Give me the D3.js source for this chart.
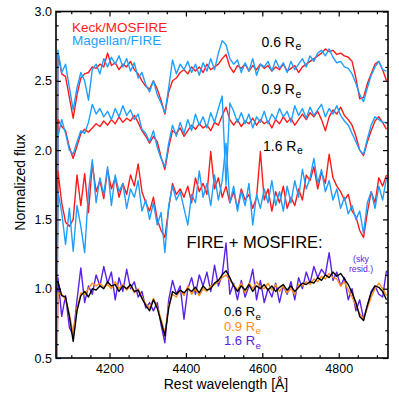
<!DOCTYPE html>
<html>
<head>
<meta charset="utf-8">
<script src="https://cdn.jsdelivr.net/npm/d3@7"></script>
<style>
  body { margin: 0; background: #fff; }
  text { font-family: "Liberation Sans", Arial, Helvetica, sans-serif; }
</style>
</head>
<body>
<div id="chart"></div>
<script>
// rest wavelength grid [A]; first point is the spectrum edge
const wavelength = [4061,
  4065,4075,4085,4095,4105,4115,4125,4135,4145,4155,
  4165,4175,4185,4195,4205,4215,4225,4235,4245,4255,
  4265,4275,4285,4295,4305,4315,4325,4335,4345,4355,
  4365,4375,4385,4395,4405,4415,4425,4435,4445,4455,
  4465,4475,4485,4495,4505,4515,4525,4535,4545,4555,
  4565,4575,4585,4595,4605,4615,4625,4635,4645,4655,
  4665,4675,4685,4695,4705,4715,4725,4735,4745,4755,
  4765,4775,4785,4795,4805,4815,4825,4835,4845,4855,
  4865,4875,4885,4895,4905,4915,4925];

// Keck/MOSFIRE, offset spectra
const mosfire06 = [0,
  2.70,2.55,2.53,2.38,2.23,2.40,2.52,2.55,2.56,2.60, 2.59,2.62,2.60,2.70,2.61,2.63,2.58,2.62,2.60,2.64,
  2.58,2.55,2.50,2.46,2.44,2.50,2.44,2.36,2.26,2.42, 2.50,2.52,2.56,2.58,2.55,2.60,2.57,2.60,2.56,2.62,
  2.58,2.60,2.62,2.66,2.69,2.60,2.56,2.61,2.59,2.62, 2.57,2.61,2.58,2.62,2.59,2.61,2.57,2.60,2.58,2.62,
  2.57,2.59,2.61,2.56,2.60,2.62,2.64,2.66,2.68,2.70, 2.73,2.71,2.72,2.69,2.70,2.68,2.67,2.64,2.52,2.37,
  2.38,2.48,2.55,2.62,2.64,2.58,2.50];
const mosfire09 = [0,
  2.22,2.17,2.14,2.02,1.94,2.03,2.12,2.15,2.13,2.16, 2.19,2.17,2.21,2.18,2.22,2.19,2.24,2.20,2.23,2.21,
  2.25,2.20,2.14,2.10,2.05,2.10,2.06,1.95,1.86,2.02, 2.14,2.12,2.16,2.10,2.14,2.18,2.15,2.19,2.16,2.18,
  2.14,2.20,2.18,2.25,2.31,2.22,2.18,2.22,2.17,2.21, 2.19,2.23,2.18,2.22,2.19,2.21,2.16,2.22,2.19,2.24,
  2.20,2.23,2.18,2.22,2.26,2.22,2.27,2.24,2.28,2.22, 2.14,2.24,2.29,2.26,2.31,2.25,2.22,2.18,2.10,2.00,
  1.96,2.06,2.14,2.21,2.24,2.20,2.15];
const mosfire16 = [0,
  1.85,1.62,1.48,1.45,1.50,1.82,1.60,1.83,1.55,1.90, 1.70,1.78,1.65,1.86,1.72,1.80,1.66,1.76,1.68,1.82,
  1.74,1.90,1.70,1.62,1.56,1.66,1.50,1.42,1.37,1.58, 1.76,1.68,1.72,1.66,1.74,1.62,1.80,1.70,1.76,1.68,
  1.99,1.72,1.80,1.66,1.74,1.62,1.70,1.58,1.72,1.64, 1.68,1.58,1.66,1.99,1.64,1.72,1.56,1.70,1.62,1.74,
  1.58,1.66,1.60,1.72,1.64,1.82,1.78,1.88,1.72,1.84, 1.76,1.97,1.80,1.74,1.70,1.64,1.68,1.56,1.52,1.42,
  1.37,1.55,1.70,1.62,1.80,1.74,1.82];

// Magellan/FIRE, offset spectra
const fire06 = [0,
  2.72,2.56,2.62,2.45,2.29,2.45,2.56,2.50,2.36,2.58, 2.62,2.55,2.66,2.60,2.67,2.62,2.68,2.60,2.66,2.57,
  2.63,2.52,2.56,2.47,2.42,2.50,2.40,2.34,2.27,2.45, 2.65,2.55,2.62,2.58,2.64,2.56,2.62,2.54,2.63,2.57,
  2.66,2.58,2.70,2.79,2.76,2.66,2.62,2.65,2.56,2.63, 2.57,2.66,2.54,2.62,2.60,2.64,2.57,2.65,2.59,2.63,
  2.56,2.64,2.58,2.62,2.66,2.60,2.68,2.64,2.70,2.72, 2.68,2.73,2.67,2.63,2.64,2.60,2.59,2.55,2.48,2.40,
  2.35,2.45,2.54,2.60,2.64,2.58,2.57];
const fire09 = [0,
  2.10,2.22,2.12,2.00,1.97,2.06,2.14,2.12,2.20,2.33, 2.26,2.30,2.24,2.28,2.22,2.30,2.24,2.32,2.25,2.29,
  2.22,2.26,2.15,2.12,2.06,2.14,2.02,1.94,1.88,2.05, 2.18,2.10,2.20,2.12,2.22,2.14,2.26,2.18,2.24,2.16,
  2.27,2.20,2.30,2.39,1.75,2.34,2.28,2.20,2.27,2.19, 2.26,2.16,2.24,2.20,2.28,2.19,2.26,2.22,2.30,2.24,
  2.28,2.20,2.32,2.25,2.30,2.23,2.31,2.25,2.29,2.33, 2.24,2.30,2.26,2.32,2.25,2.21,2.18,2.12,2.06,2.00,
  1.97,2.08,2.18,2.24,2.22,2.20,2.20];
const fire16 = [0,
  1.70,1.55,1.32,1.58,1.27,1.60,1.45,1.26,1.70,1.93, 1.62,1.80,1.68,1.88,1.60,1.82,1.70,1.76,1.58,1.72,
  1.66,1.78,1.56,1.64,1.50,1.62,1.46,1.55,1.26,1.60, 1.74,1.64,1.70,1.58,1.46,1.68,1.62,1.85,1.66,1.76,
  1.60,1.82,1.64,1.78,2.05,1.62,1.74,1.56,1.70,1.60, 1.76,1.46,1.68,1.58,1.72,1.62,1.78,1.60,1.70,1.56,
  1.74,1.62,1.78,1.66,1.86,1.72,1.80,1.94,1.76,1.86, 1.70,1.78,1.64,1.72,1.58,1.66,1.54,1.60,1.50,1.56,
  1.40,1.62,1.70,1.58,1.74,1.64,1.80];

// FIRE + MOSFIRE combined
const combined06 = [1.05,
  1.05,0.95,0.94,0.80,0.62,0.84,0.95,0.98,0.94,1.00, 0.99,1.02,1.00,1.05,1.02,1.03,0.98,1.02,1.00,1.03,
  0.98,0.99,0.93,0.88,0.84,0.92,0.86,0.76,0.66,0.86, 0.98,0.96,0.99,0.97,1.00,0.98,1.01,0.97,1.02,0.99,
  1.00,1.04,1.06,1.10,1.13,1.08,1.02,0.98,1.02,0.99, 1.03,0.98,1.02,1.00,1.03,0.99,1.02,0.98,1.01,1.03,
  0.99,1.02,0.98,1.01,1.04,1.03,1.05,1.04,1.08,1.06, 1.10,1.08,1.12,1.09,1.11,1.07,1.03,0.97,0.90,0.80,
  0.77,0.88,0.97,1.02,1.01,0.98,0.92];
const combined09 = [0,
  0.97,0.96,0.92,0.82,0.67,0.86,0.97,0.96,1.00,1.04, 1.02,1.04,1.01,1.03,1.00,1.05,1.00,1.03,0.99,1.02,
  0.97,1.00,0.94,0.89,0.86,0.93,0.87,0.78,0.68,0.88, 0.96,0.94,0.99,0.95,1.02,0.96,1.00,0.95,1.00,0.98,
  1.02,1.03,1.05,1.08,1.10,1.06,1.03,0.99,1.04,0.97, 1.04,1.00,1.05,1.01,1.00,1.04,0.99,1.03,0.98,1.02,
  0.97,1.00,0.96,1.03,1.02,1.05,1.03,1.07,1.05,1.09, 1.07,1.11,1.08,1.07,1.02,1.05,0.99,0.94,0.88,0.82,
  0.78,0.86,0.94,1.00,1.04,1.00,0.95];
const combined16 = [0,
  1.08,0.80,0.95,0.72,0.66,0.92,1.15,0.90,1.02,0.96, 1.10,1.02,1.16,1.04,1.12,0.92,1.08,0.98,1.14,1.00,
  1.05,0.94,0.98,0.86,0.90,0.84,0.90,0.74,0.61,0.92, 1.06,0.96,1.02,0.78,1.00,1.08,0.96,1.10,1.02,1.12,
  0.98,1.17,1.02,1.10,1.33,0.96,1.04,0.92,1.06,0.94, 1.02,1.14,0.92,1.06,0.90,1.00,0.94,1.04,0.90,1.02,
  0.96,1.05,0.92,1.08,1.00,1.12,1.04,1.16,1.08,1.14, 1.10,1.26,1.06,1.12,1.02,1.08,0.92,1.00,0.84,0.92,
  0.78,0.88,0.98,1.02,0.96,0.94,1.13];

const xMajorTicks = [4200, 4400, 4600, 4800];
const xMinorTicks = [4100, 4150, 4250, 4300, 4350, 4450, 4500, 4550, 4650, 4700, 4750, 4850, 4900];
const yMajorTicks = [0.5, 1.0, 1.5, 2.0, 2.5, 3.0];
const yMinorTicks = [0.6, 0.7, 0.8, 0.9, 1.1, 1.2, 1.3, 1.4, 1.6, 1.7, 1.8, 1.9,
                     2.1, 2.2, 2.3, 2.4, 2.6, 2.7, 2.8, 2.9];

const RED = "#ff1a1a", BLUE = "#1e9fff", ORANGE = "#ff8c1a", PURPLE = "#5a22e6";

// draw order: pairs first, combined on top
const series = [
  { values: mosfire06, color: RED },
  { values: fire06, color: BLUE },
  { values: mosfire09, color: RED },
  { values: fire09, color: BLUE },
  { values: mosfire16, color: RED },
  { values: fire16, color: BLUE },
  { values: combined16, color: PURPLE },
  { values: combined09, color: ORANGE },
  { values: combined06, color: "#000" }
];

const width = 399, height = 399;
const plotLeft = 56, plotRight = 388, plotTop = 11.5, plotBottom = 358;

const svg = d3.select("#chart").append("svg")
    .attr("width", width)
    .attr("height", height);

const x = d3.scaleLinear().domain([4060, 4929]).range([plotLeft, plotRight]);
const y = d3.scaleLinear().domain([0.5, 3.0]).range([plotBottom, plotTop]);

svg.append("clipPath").attr("id", "plotclip")
  .append("rect")
    .attr("x", plotLeft).attr("y", plotTop)
    .attr("width", plotRight - plotLeft).attr("height", plotBottom - plotTop);

const line = d3.line()
    .x((d, i) => x(wavelength[i]))
    .y(d => y(d));

const lines = svg.append("g").attr("clip-path", "url(#plotclip)");
series.forEach(s => {
    lines.append("path")
        .datum(s.values)
        .attr("d", line)
        .attr("fill", "none")
        .attr("stroke", s.color)
        .attr("stroke-width", 1.4)
        .attr("stroke-linejoin", "round");
});

// axes, ticks pointing inward on all four sides
function styleAxis(g) {
    g.select(".domain").remove();
    g.selectAll(".tick line").attr("stroke", "#000").attr("stroke-width", 1.2);
    g.selectAll("text")
        .attr("fill", "#000")
        .style("font-family", '"Liberation Sans", Arial, sans-serif')
        .style("font-size", "12.5px");
}

svg.append("g").attr("transform", `translate(0,${plotBottom})`)
    .call(d3.axisBottom(x).tickValues(xMajorTicks).tickSize(-5).tickPadding(6).tickFormat(d3.format("d")))
    .call(styleAxis);
svg.append("g").attr("transform", `translate(0,${plotBottom})`)
    .call(d3.axisBottom(x).tickValues(xMinorTicks).tickSize(-2.7).tickFormat(""))
    .call(styleAxis);
svg.append("g").attr("transform", `translate(0,${plotTop})`)
    .call(d3.axisTop(x).tickValues(xMajorTicks).tickSize(-5).tickFormat(""))
    .call(styleAxis);
svg.append("g").attr("transform", `translate(0,${plotTop})`)
    .call(d3.axisTop(x).tickValues(xMinorTicks).tickSize(-2.7).tickFormat(""))
    .call(styleAxis);

svg.append("g").attr("transform", `translate(${plotLeft},0)`)
    .call(d3.axisLeft(y).tickValues(yMajorTicks).tickSize(-5).tickPadding(4).tickFormat(d3.format(".1f")))
    .call(styleAxis);
svg.append("g").attr("transform", `translate(${plotLeft},0)`)
    .call(d3.axisLeft(y).tickValues(yMinorTicks).tickSize(-2.7).tickFormat(""))
    .call(styleAxis);
svg.append("g").attr("transform", `translate(${plotRight},0)`)
    .call(d3.axisRight(y).tickValues(yMajorTicks).tickSize(-5).tickFormat(""))
    .call(styleAxis);
svg.append("g").attr("transform", `translate(${plotRight},0)`)
    .call(d3.axisRight(y).tickValues(yMinorTicks).tickSize(-2.7).tickFormat(""))
    .call(styleAxis);

// frame
svg.append("rect")
    .attr("x", plotLeft).attr("y", plotTop)
    .attr("width", plotRight - plotLeft).attr("height", plotBottom - plotTop)
    .attr("fill", "none")
    .attr("stroke", "#000")
    .attr("stroke-width", 1.6);

// axis titles
svg.append("text")
    .attr("x", 226).attr("y", 389)
    .attr("text-anchor", "middle")
    .style("font-size", "14px")
    .text("Rest wavelength [Å]");

svg.append("text")
    .attr("transform", "translate(25,182.5) rotate(-90)")
    .attr("text-anchor", "middle")
    .style("font-size", "14px")
    .text("Normalized flux");

// instrument legend
svg.append("text").attr("x", 72).attr("y", 31.5)
    .attr("fill", RED).style("font-size", "13.5px").text("Keck/MOSFIRE");
svg.append("text").attr("x", 72).attr("y", 45.3)
    .attr("fill", BLUE).style("font-size", "13.5px").text("Magellan/FIRE");

// radius labels, R with subscript e (subscript as its own text)
function radiusLabel(px, py, label, color, size) {
    const main = svg.append("text").attr("x", px).attr("y", py)
        .attr("fill", color).style("font-size", size + "px")
        .text(label + " R");
    const w = main.node().getComputedTextLength();
    svg.append("text").attr("x", px + w + 0.5).attr("y", py + 3.5)
        .attr("fill", color).style("font-size", (size * 0.75) + "px")
        .text("e");
}

radiusLabel(261.5, 46.7, "0.6", "#000", 14);
radiusLabel(261.5, 94, "0.9", "#000", 14);
radiusLabel(263, 150.7, "1.6", "#000", 14);

svg.append("text").attr("x", 186.5).attr("y", 248.3)
    .style("font-size", "16.5px").text("FIRE + MOSFIRE:");

radiusLabel(224, 316.2, "0.6", "#000", 13);
radiusLabel(224, 330.7, "0.9", ORANGE, 13);
radiusLabel(224, 345.2, "1.6", PURPLE, 13);

svg.append("text").attr("x", 361).attr("y", 261.8)
    .attr("text-anchor", "middle").attr("fill", PURPLE)
    .style("font-size", "8.7px").text("(sky");
svg.append("text").attr("x", 361).attr("y", 271.6)
    .attr("text-anchor", "middle").attr("fill", PURPLE)
    .style("font-size", "8.7px").text("resid.)");
</script>
</body>
</html>
